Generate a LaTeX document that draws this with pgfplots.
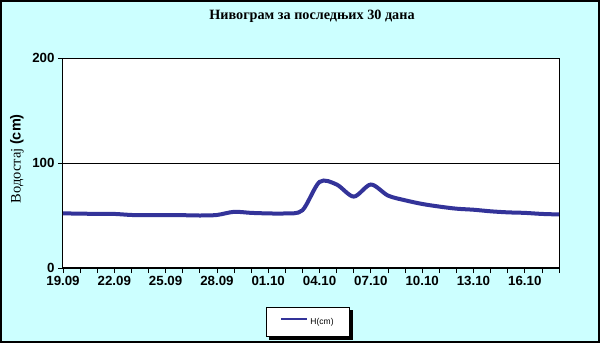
\documentclass[border=0pt]{standalone}
\usepackage{fontspec}
\setmainfont{Liberation Serif}
\setsansfont{Liberation Sans}
\usepackage{pgfplots}
\pgfplotsset{compat=1.18}
\definecolor{bgcyan}{HTML}{CCFFFF}
\definecolor{serblue}{HTML}{333399}
\begin{document}
\begin{tikzpicture}[x=1bp,y=1bp]
\fill[bgcyan] (-63,-75) rectangle (537,268);
\begin{axis}[
  at={(0,0)}, anchor=south west,
  scale only axis, width=496bp, height=210bp,
  xmin=0, xmax=29, ymin=0, ymax=200,
  axis background/.style={fill=white},
  axis line style={line width=1bp, black},
  xtick={0,...,29},
  xticklabels={19.09,,,22.09,,,25.09,,,28.09,,,01.10,,,04.10,,,07.10,,,10.10,,,13.10,,,16.10,,},
  ytick={0,100,200},
  tick align=outside, major tick length=5bp,
  tick style={black, line width=0.8bp},
  xtick pos=bottom, ytick pos=left,
  ymajorgrids, grid style={black, line width=0.8bp},
  ticklabel style={font=\sffamily\bfseries\fontsize{13.3bp}{13bp}\selectfont},
  /pgf/number format/assume math mode=true,
  title={Нивограм за последњих 30 дана},
  title style={at={(axis description cs:0.502,1.171)}, anchor=center, font=\bfseries\fontsize{14.2bp}{14bp}\selectfont},
  ylabel={Водостај \textsf{\bfseries (cm)}},
  ylabel style={at={(axis description cs:-0.0927,0.52)}, anchor=center, font=\fontsize{14.5bp}{14bp}\selectfont},
  legend style={name=leg, at={(axis description cs:0.494,-0.258)}, anchor=center, draw=black, line width=0.8bp, fill=white,
    font=\sffamily\fontsize{8.5bp}{9bp}\selectfont, inner xsep=14bp, inner ysep=8.5bp},
  legend image code/.code={\draw[#1] (0bp,3bp) -- (26bp,3bp);},
  legend image post style={line width=2bp},
  after end axis/.code={\draw[black, line width=2bp] (rel axis cs:0,0) -- (rel axis cs:1,0);},
]
\addplot[serblue, line width=4bp, smooth] coordinates {
(0,52) (1,51.8) (2,51.5) (3,51.5) (4,50.5) (5,50.3) (6,50.3) (7,50.3) (8,50) (9,50.5)
(10,53.5) (11,52.5) (12,52) (13,52) (14,55) (15,82) (16,79.5) (17,68) (18,79.5) (19,69)
(20,64.5) (21,61) (22,58.5) (23,56.5) (24,55.5) (25,54) (26,53) (27,52.5) (28,51.5) (29,51)
};
\addlegendentry{H(cm)}
\end{axis}
\fill[black] ([xshift=0.4bp,yshift=-3bp]leg.north east) rectangle ([xshift=3.4bp,yshift=-3.4bp]leg.south east);
\fill[black] ([xshift=3bp,yshift=-0.4bp]leg.south west) rectangle ([xshift=3.4bp,yshift=-3.4bp]leg.south east);
\draw[black, line width=2bp] (-62,-74) rectangle (536,267);
\pgfresetboundingbox
\path[use as bounding box] (-63,-75) rectangle (537,268);
\end{tikzpicture}
\end{document}
